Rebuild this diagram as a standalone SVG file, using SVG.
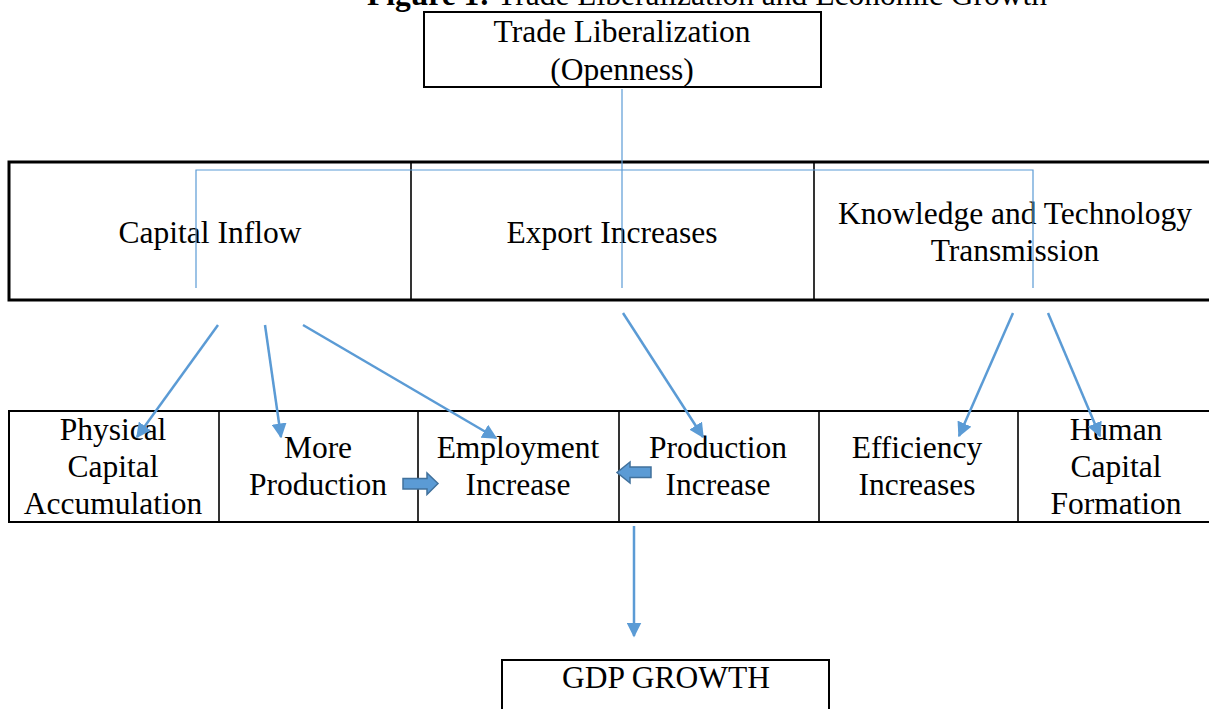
<svg xmlns="http://www.w3.org/2000/svg" width="1209" height="709" viewBox="0 0 1209 709">
  <defs>
    <style>
      .t { font-family: "Liberation Serif", "Times New Roman", serif; font-size: 31.5px; fill: #000; text-anchor: middle; }
      .box { fill: #fff; stroke: #000; stroke-width: 2; }
      .thick { fill: none; stroke: #000; stroke-width: 3; }
      .div { stroke: #000; stroke-width: 1.6; }
      .thin { fill: none; stroke: #5B9BD5; stroke-width: 1.2; }
      .arr { fill: none; stroke: #5B9BD5; stroke-width: 2.5; marker-end: url(#head); }
      .block { fill: #5B9BD5; stroke: #41719C; stroke-width: 1.5; }
    </style>
    <marker id="head" viewBox="0 0 10 10" refX="9" refY="5" markerWidth="6" markerHeight="6" orient="auto" markerUnits="strokeWidth">
      <path d="M0,0 L10,5 L0,10 Z" fill="#5B9BD5"/>
    </marker>
  </defs>

  <rect width="1209" height="709" fill="#fff"/>

  <!-- title -->
  <text x="367" y="5" style="font-family: 'Liberation Serif', 'Times New Roman', serif; font-size: 31.5px;"><tspan font-weight="bold">Figure 1:</tspan> Trade Liberalization and Economic Growth</text>

  <!-- top node -->
  <g id="trade-liberalization">
    <rect class="box" x="424" y="12" width="397" height="75"/>
    <text class="t" x="622" y="42">Trade Liberalization</text>
    <text class="t" x="622" y="80">(Openness)</text>
  </g>

  <!-- middle row -->
  <g id="middle-row">
    <rect class="thick" x="9" y="162" width="1205" height="138"/>
    <line class="div" x1="411" y1="162" x2="411" y2="300"/>
    <line class="div" x1="814" y1="162" x2="814" y2="300"/>
  </g>
  <g id="capital-inflow">
    <text class="t" x="210" y="243">Capital Inflow</text>
  </g>
  <g id="export-increases">
    <text class="t" x="612" y="243">Export Increases</text>
  </g>
  <g id="knowledge-technology">
    <text class="t" x="1015" y="224">Knowledge and Technology</text>
    <text class="t" x="1015" y="261">Transmission</text>
  </g>

  <!-- bottom row -->
  <g id="bottom-row">
    <rect class="box" x="9" y="411" width="1205" height="111"/>
    <line class="div" x1="219" y1="411" x2="219" y2="522"/>
    <line class="div" x1="418" y1="411" x2="418" y2="522"/>
    <line class="div" x1="619" y1="411" x2="619" y2="522"/>
    <line class="div" x1="819" y1="411" x2="819" y2="522"/>
    <line class="div" x1="1018" y1="411" x2="1018" y2="522"/>
  </g>
  <g id="physical-capital">
    <text class="t" x="113" y="440">Physical</text>
    <text class="t" x="113" y="477">Capital</text>
    <text class="t" x="113" y="514">Accumulation</text>
  </g>
  <g id="more-production">
    <text class="t" x="318" y="458">More</text>
    <text class="t" x="318" y="495">Production</text>
  </g>
  <g id="employment-increase">
    <text class="t" x="518" y="458">Employment</text>
    <text class="t" x="518" y="495">Increase</text>
  </g>
  <g id="production-increase">
    <text class="t" x="718" y="458">Production</text>
    <text class="t" x="718" y="495">Increase</text>
  </g>
  <g id="efficiency-increases">
    <text class="t" x="917" y="458">Efficiency</text>
    <text class="t" x="917" y="495">Increases</text>
  </g>
  <g id="human-capital">
    <text class="t" x="1116" y="440">Human</text>
    <text class="t" x="1116" y="477">Capital</text>
    <text class="t" x="1116" y="514">Formation</text>
  </g>

  <!-- GDP node -->
  <g id="gdp-growth">
    <rect class="box" x="502" y="660" width="327" height="60"/>
    <text class="t" x="666" y="688">GDP GROWTH</text>
  </g>

  <!-- connectors -->
  <g id="connectors">
    <line class="thin" x1="622" y1="89" x2="622" y2="288"/>
    <polyline class="thin" points="196,288 196,170 1033,170 1033,288"/>

    <line class="arr" x1="218" y1="325" x2="137" y2="437"/>
    <line class="arr" x1="265" y1="325" x2="281" y2="437"/>
    <line class="arr" x1="303" y1="325" x2="496" y2="438"/>
    <line class="arr" x1="623" y1="313" x2="703" y2="437"/>
    <line class="arr" x1="1013" y1="313" x2="959" y2="436"/>
    <line class="arr" x1="1048" y1="313" x2="1100" y2="436"/>
    <line class="arr" x1="634" y1="526" x2="634" y2="636"/>

    <path class="block" d="M403,478.5 L427,478.5 L427,473 L438,483.5 L427,494.5 L427,489 L403,489 Z"/>
    <path class="block" d="M651,467 L630,467 L630,462 L617,472.5 L630,483 L630,477.5 L651,477.5 Z"/>
  </g>
</svg>
